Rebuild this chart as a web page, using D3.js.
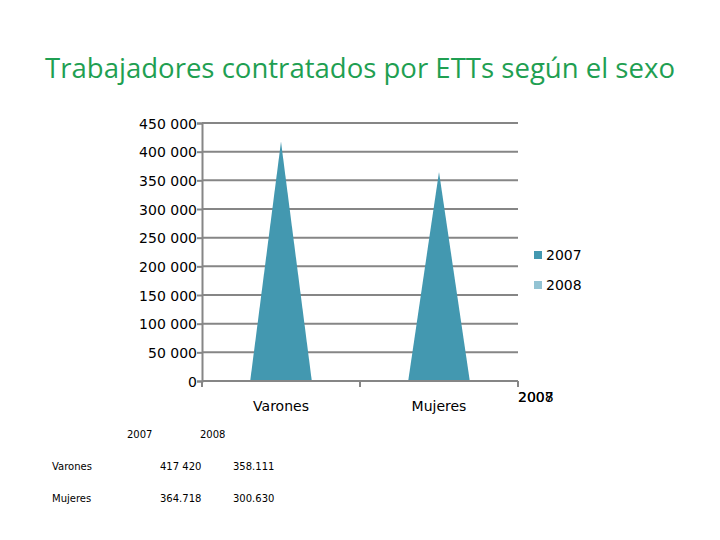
<!DOCTYPE html>
<html>
<head>
  <meta charset="utf-8">
  <title>Trabajadores ETTs</title>
  <style type="text/css">
    body { margin: 0; background: #fff; }
    text { font-family: "DejaVu Sans", Verdana, sans-serif; }
  </style>
</head>
<body>
<div id="chart"></div>
<script src="https://d3js.org/d3.v7.min.js"></script>
<script type="text/javascript">
  var categories = ["Varones", "Mujeres"];
  var years = ["2007", "2008"];
  var values2007 = [417420, 364718];
  var values2008 = [358111, 300630];
  var yTicks = [0, 50000, 100000, 150000, 200000, 250000, 300000, 350000, 400000, 450000];
  var tableRows = [
    { name: "Varones", a: "417 420", b: "358.111" },
    { name: "Mujeres", a: "364.718", b: "300.630" }
  ];

  var svg = d3.select("#chart").append("svg")
      .attr("width", 720).attr("height", 540);

  // title, sized so it spans the same width as the original
  var title = svg.append("text")
    .attr("x", 360).attr("y", 78)
    .style("text-anchor", "middle")
    .style("font-family", "'Open Sans', 'Noto Sans', sans-serif")
    .style("font-size", "30px")
    .style("fill", "#1f9f52")
    .text("Trabajadores contratados por ETTs según el sexo");
  var tw = title.node().getComputedTextLength();
  title.style("font-size", (30 * 630 / tw).toFixed(2) + "px");

  var x = d3.scaleBand().domain(categories).range([202, 518]);
  var y = d3.scaleLinear().domain([0, 450000]).range([381, 123]);
  var grid = "#868686";

  // gridlines
  svg.selectAll("line.grid").data(yTicks.slice(1)).enter()
    .append("line")
      .attr("x1", 202).attr("x2", 518)
      .attr("y1", function (d) { return y(d); })
      .attr("y2", function (d) { return y(d); })
      .style("stroke", grid).style("stroke-width", 2);

  // y axis
  var yAxis = d3.axisLeft(y).tickValues(yTicks).tickSize(5).tickPadding(0)
      .tickFormat(function (d) { return d3.format(",")(d).replace(/,/g, " "); });
  var gy = svg.append("g").attr("transform", "translate(202,0)").call(yAxis);
  gy.select(".domain").style("stroke", grid).style("stroke-width", 2);
  gy.selectAll(".tick line").style("stroke", grid).style("stroke-width", 2);
  gy.selectAll(".tick text").style("font-size", "14px").style("fill", "#000")
    .attr("dy", "0.36em");

  // cones (2007)
  var half = x.bandwidth() * 0.195;
  svg.selectAll("path.cone").data(values2007).enter()
    .append("path")
      .attr("d", function (d, i) {
        var cx = x(categories[i]) + x.bandwidth() / 2;
        return "M" + (cx - half) + "," + y(0) + "L" + cx + "," + y(d) +
               "L" + (cx + half) + "," + y(0) + "Z";
      })
      .style("fill", "#4398b0");

  // x axis
  var gx = svg.append("g").attr("transform", "translate(0,381)");
  gx.append("line").attr("x1", 202).attr("x2", 518)
    .style("stroke", grid).style("stroke-width", 2);
  gx.selectAll("line.tk").data([202, 202 + x.bandwidth(), 518]).enter()
    .append("line")
      .attr("x1", function (d) { return d; }).attr("x2", function (d) { return d; })
      .attr("y1", 0).attr("y2", 6)
      .style("stroke", grid).style("stroke-width", 2);
  gx.selectAll("text.cat").data(categories).enter()
    .append("text")
      .attr("x", function (d) { return x(d) + x.bandwidth() / 2; })
      .attr("y", 30)
      .style("text-anchor", "middle").style("font-size", "14px")
      .text(function (d) { return d; });

  // overlapping series labels at axis end
  svg.selectAll("text.yr").data(years).enter()
    .append("text")
      .attr("x", 518).attr("y", 402)
      .style("font-size", "14px")
      .text(function (d) { return d; });

  // legend
  var legColors = ["#4398b0", "#93c3d3"];
  var leg = svg.selectAll("g.leg").data(years).enter()
    .append("g").attr("transform", function (d, i) { return "translate(534," + (251 + i * 30) + ")"; });
  leg.append("rect").attr("width", 8).attr("height", 8)
    .style("fill", function (d, i) { return legColors[i]; });
  leg.append("text").attr("x", 12).attr("y", 9)
    .style("font-size", "14px").text(function (d) { return d; });

  // small data table
  var tbl = svg.append("g").style("font-size", "10px");
  tbl.append("text").attr("x", 127).attr("y", 438).text(years[0]);
  tbl.append("text").attr("x", 200).attr("y", 438).text(years[1]);
  tableRows.forEach(function (r, i) {
    var yy = 470 + i * 32;
    tbl.append("text").attr("x", 52).attr("y", yy).text(r.name);
    tbl.append("text").attr("x", 160).attr("y", yy).text(r.a);
    tbl.append("text").attr("x", 233).attr("y", yy).text(r.b);
  });
</script>
</body>
</html>
